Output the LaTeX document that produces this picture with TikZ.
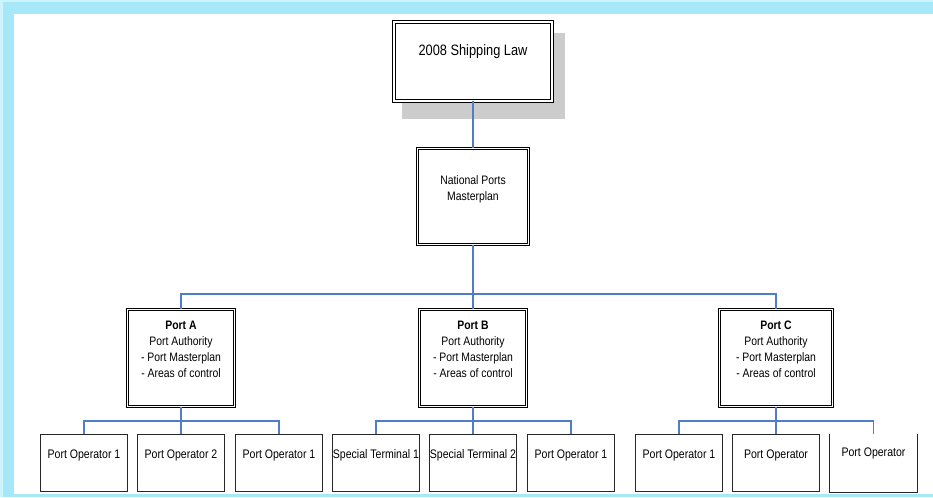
\documentclass[tikz,border=0pt]{standalone}
\usepackage{fontspec}
\setmainfont{Liberation Sans}[FakeStretch=0.85]
\definecolor{framecyan}{RGB}{166,232,248}
\definecolor{framepale}{RGB}{205,243,252}
\definecolor{linkblue}{RGB}{80,125,200}
\definecolor{shadowgray}{RGB}{204,204,204}
\definecolor{boxgray}{RGB}{40,40,40}
\begin{document}
\begin{tikzpicture}[x=0.75pt,y=-0.75pt,
  conn/.style={draw=linkblue, line width=0.85pt},
  dblbox/.style={draw=black, double=white, double distance=1.2pt, line width=0.6pt,
                 fill=white, inner sep=0pt},
  leafbox/.style={draw=boxgray, line width=0.75pt, fill=white, inner sep=0pt,
                  minimum width=65.25pt, minimum height=42.75pt},
  lawtext/.style={font=\fontsize{11.3}{13.5}\selectfont, inner sep=0pt},
  midtext/.style={font=\fontsize{9.2}{12}\selectfont, align=center, inner sep=0pt},
  leaftext/.style={font=\fontsize{9.3}{11}\selectfont, inner sep=0pt}
]
\useasboundingbox (0,0) rectangle (933,498);

% page background
\fill[white] (0,0) rectangle (933,498);

% page frame: cyan bands on the left, along the top and along the bottom
\fill[framepale] (0,0) rectangle (933,14);
\fill[framepale] (0,0) rectangle (14,497.5);
\fill[framecyan] (2.5,2.5) rectangle (933,14);
\fill[framecyan] (2.5,2.5) rectangle (14,497.5);
\fill[framecyan] (14,494.5) rectangle (933,497.5);
% rounded outer corner at the top left
\fill[white] (0,0) -- (10,0) arc[start angle=90, end angle=180, radius=10] -- cycle;

% top level with its drop shadow
\fill[shadowgray] (402,33) rectangle (565,119);
\node[dblbox, minimum width=118.5pt, minimum height=59.25pt] (law) at (473,61.5) {};
\node[lawtext] (lawlbl) at (473,52) {2008 Shipping Law};

% national masterplan
\node[dblbox, minimum width=83.25pt, minimum height=72pt] (nat) at (473,196.5) {};
\node[midtext] (natlbl) at (473,189) {National Ports\\Masterplan};

% port authorities
\node[dblbox, minimum width=80.25pt, minimum height=72.75pt] (pA) at (181,358) {};
\node[dblbox, minimum width=80.25pt, minimum height=72.75pt] (pB) at (473,358) {};
\node[dblbox, minimum width=84.75pt, minimum height=72.75pt] (pC) at (776,358) {};
\node[midtext] (pAlbl) at (181,349) {\textbf{Port A}\\Port Authority\\- Port Masterplan\\- Areas of control};
\node[midtext] (pBlbl) at (473,349) {\textbf{Port B}\\Port Authority\\- Port Masterplan\\- Areas of control};
\node[midtext] (pClbl) at (776,349) {\textbf{Port C}\\Port Authority\\- Port Masterplan\\- Areas of control};

% operators and terminals
\node[leafbox] (a1) at (84,463.5) {};
\node[leafbox] (a2) at (181,463.5) {};
\node[leafbox] (a3) at (279,463.5) {};
\node[leafbox] (b1) at (376,463.5) {};
\node[leafbox] (b2) at (473,463.5) {};
\node[leafbox] (b3) at (571,463.5) {};
\node[leafbox] (c1) at (679,463.5) {};
\node[leafbox] (c2) at (776,463.5) {};
\node[leafbox, draw=none] (c3) at (873.5,463.5) {};
\draw[boxgray, line width=0.75pt] (c3.north west) -- (c3.south west) -- (c3.south east) -- (c3.north east);

\node[leaftext] (a1lbl) at (84,455) {Port Operator 1};
\node[leaftext] (a2lbl) at (181,455) {Port Operator 2};
\node[leaftext] (a3lbl) at (279,455) {Port Operator 1};
\node[leaftext] (b1lbl) at (376,455) {Special Terminal 1};
\node[leaftext] (b2lbl) at (473,455) {Special Terminal 2};
\node[leaftext] (b3lbl) at (571,455) {Port Operator 1};
\node[leaftext] (c1lbl) at (679,455) {Port Operator 1};
\node[leaftext] (c2lbl) at (776,455) {Port Operator};
\node[leaftext] (c3lbl) at (873.5,453) {Port Operator};

% connectors
\coordinate (portbus) at (0,294);
\coordinate (opbus) at (0,421);
\draw[conn] (law.south) -- (nat.north);
\draw[conn] (nat.south) -- (nat.south |- portbus);
\draw[conn] (pA.north) -- (pA.north |- portbus) -- (pC.north |- portbus) -- (pC.north);
\draw[conn] (pB.north) -- (pB.north |- portbus);

\draw[conn] (pA.south) -- (pA.south |- opbus);
\draw[conn] (a1.north) -- (a1.north |- opbus) -- (a3.north |- opbus) -- (a3.north);
\draw[conn] (a2.north) -- (a2.north |- opbus);

\draw[conn] (pB.south) -- (pB.south |- opbus);
\draw[conn] (b1.north) -- (b1.north |- opbus) -- (b3.north |- opbus) -- (b3.north);
\draw[conn] (b2.north) -- (b2.north |- opbus);

\draw[conn] (pC.south) -- (pC.south |- opbus);
\draw[conn] (c1.north) -- (c1.north |- opbus) -- (c3.north |- opbus) -- (c3.north);
\draw[conn] (c2.north) -- (c2.north |- opbus);
\end{tikzpicture}
\end{document}
